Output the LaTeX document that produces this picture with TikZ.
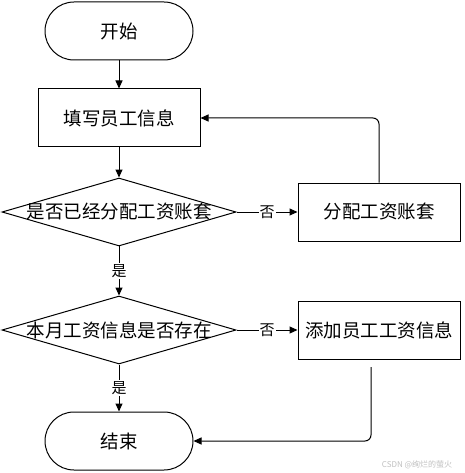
\documentclass[tikz,border=0pt]{standalone}
\usepackage{fontspec}
\setmainfont{Noto Sans CJK SC}
\usetikzlibrary{shapes.geometric,arrows.meta}
\tikzset{
  every node/.style={font=\fontsize{18.5}{21}\selectfont, inner sep=0pt},
  terminal/.style={draw, rectangle, rounded corners=29pt, minimum width=148pt, minimum height=58pt},
  process/.style={draw, rectangle, minimum width=162pt, minimum height=58pt},
  decision/.style={draw, diamond, minimum width=234pt, minimum height=68pt},
  flow/.style={draw, line width=1pt, -{Triangle[length=8pt,width=7pt]}},
  answer/.style={fill=white, font=\fontsize{15}{17}\selectfont, inner sep=1pt},
}

\begin{document}
\begin{tikzpicture}[x=1pt,y=-1pt,line width=1pt] % staff salary flow
    \useasboundingbox (0,0) rectangle (464,473);

    % left column
    \node (start)  [terminal] at (119,31)  {开始};
    \node (fill)   [process]  at (119,118) {填写员工信息};
    \node (hasset) [decision] at (119,212) {\makebox[0pt]{是否已经分配工资账套}};
    \node (hasinf) [decision] at (119,330) {\makebox[0pt]{本月工资信息是否存在}};
    \node (finish) [terminal] at (119,441) {结束};

    % right column
    \node (assign) [process]  at (379,212) {分配工资账套};
    \node (addinf) [process]  at (379,330) {添加员工工资信息};

    % main line
    \draw [flow] (start) -- (fill);
    \draw [flow] (fill) -- (hasset);
    \draw [flow] (hasset) -- node[answer] {是} (hasinf);
    \draw [flow] (hasinf) -- node[answer] {是} (finish);

    % no branches
    \draw [flow] (hasset) -- node[answer] {否} (assign);
    \draw [flow] (hasinf) -- node[answer] {否} (addinf);

    % back lines
    \draw [flow, rounded corners=6pt] (assign.north) |- (fill.east);
    \coordinate (addout) at (371,367);
    \draw [flow, rounded corners=6pt] (addout) |- (finish.east);

    \node (mark) [text=black!25, font=\fontsize{8}{9}\selectfont] at (417,465) {CSDN @绚烂的萤火};
\end{tikzpicture}
\end{document}
